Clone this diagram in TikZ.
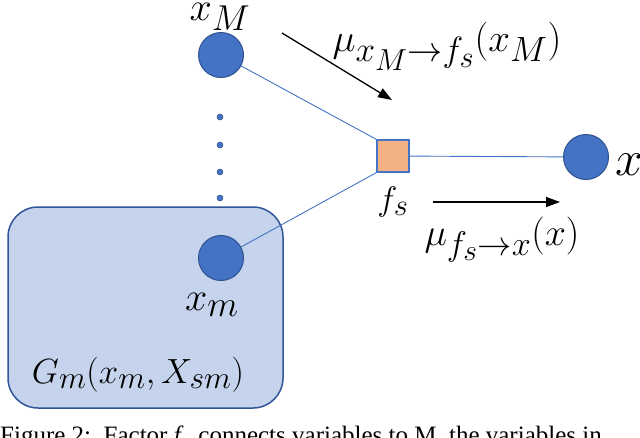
\RequirePackage{fix-cm}
\documentclass[tikz,border=0pt]{standalone}
\usepackage{fontspec}
\newfontfamily\capfont{Liberation Serif}
\DeclareMathSizes{40}{40}{36}{31.2}
\DeclareMathSizes{35}{35}{31.5}{27.3}
\DeclareMathSizes{34}{34}{30.6}{26.5}
\DeclareMathSizes{50}{50}{45}{39}
\DeclareMathSizes{39}{39}{35.1}{30.4}
\DeclareMathSizes{38}{38}{34.2}{29.6}
\usetikzlibrary{arrows.meta}
\definecolor{nodeblue}{HTML}{4472C4}
\definecolor{nodeedge}{HTML}{2F528F}
\definecolor{boxfill}{HTML}{C5D4EC}
\definecolor{boxedge}{HTML}{2F5597}
\definecolor{factorfill}{HTML}{F4B183}
\tikzset{
  var/.style={circle, fill=nodeblue, draw=nodeedge, line width=1pt, minimum size=45pt, inner sep=0pt},
  dotnode/.style={circle, fill=nodeblue, draw=nodeedge, line width=0.5pt, minimum size=6pt, inner sep=0pt},
  factor/.style={rectangle, fill=factorfill, draw=nodeblue, line width=1.2pt, minimum size=32pt, inner sep=0pt},
  gbox/.style={rectangle, rounded corners=30pt, fill=boxfill, draw=boxedge, line width=1.5pt, minimum width=275pt, minimum height=201pt, inner sep=0pt},
  link/.style={draw=nodeblue, line width=0.9pt},
  msg/.style={draw=black, line width=1.3pt, -{Triangle[length=14pt,width=10pt]}},
  lab/.style={inner sep=0pt, anchor=base},
}
\begin{document}
\begin{tikzpicture}[x=1pt,y=-1pt]
\useasboundingbox (0,0) rectangle (640,437);
\clip (0,0) rectangle (640,437);
\node[gbox] (G) at (145.5,307.5) {};
\node[var] (xM) at (221,55) {};
\node[var] (xm) at (221,258) {};
\node[var] (x) at (586,157) {};
\node[factor] (fs) at (393,156) {};
\node[dotnode] (d1) at (220,117) {};
\node[dotnode] (d2) at (220,145) {};
\node[dotnode] (d3) at (220,172) {};
\node[dotnode] (d4) at (220,198) {};
\draw[link] (xM) -- (fs.north west);
\draw[link] (xm) -- (fs.south west);
\draw[link] (fs) -- (x);
\coordinate (a1s) at (282,33);
\coordinate (a1e) at (392,100);
\coordinate (a2s) at (433,202);
\coordinate (a2e) at (560,202);
\draw[msg] (a1s) -- (a1e);
\draw[msg] (a2s) -- (a2e);
\node[lab] (lxM) at (220,20) {\fontsize{40}{48}\selectfont $x_M$};
\node[lab] (lxm) at (212,310) {\fontsize{40}{48}\selectfont $x_m$};
\node[lab] (lG) at (138,383) {\fontsize{35}{42}\selectfont $G_m(x_m,X_{sm})$};
\node[lab] (lfs) at (393,210) {\fontsize{34}{40}\selectfont $f_s$};
\node[lab, anchor=base west] (lx) at (615,175) {\fontsize{50}{60}\selectfont $x$};
\node[lab] (lm1) at (447,51) {\fontsize{39}{46}\selectfont $\mu_{x_M\to f_s}(x_M)$};
\node[lab] (lm2) at (502,245) {\fontsize{38}{46}\selectfont $\mu_{f_s\to x}(x)$};
\node[lab, anchor=base west] (cap) at (0,443) {\capfont\fontsize{25}{30}\selectfont Figure 2:\ \ Factor \textit{f}$_s$ connects variables to M, the variables in};
\end{tikzpicture}
\end{document}
